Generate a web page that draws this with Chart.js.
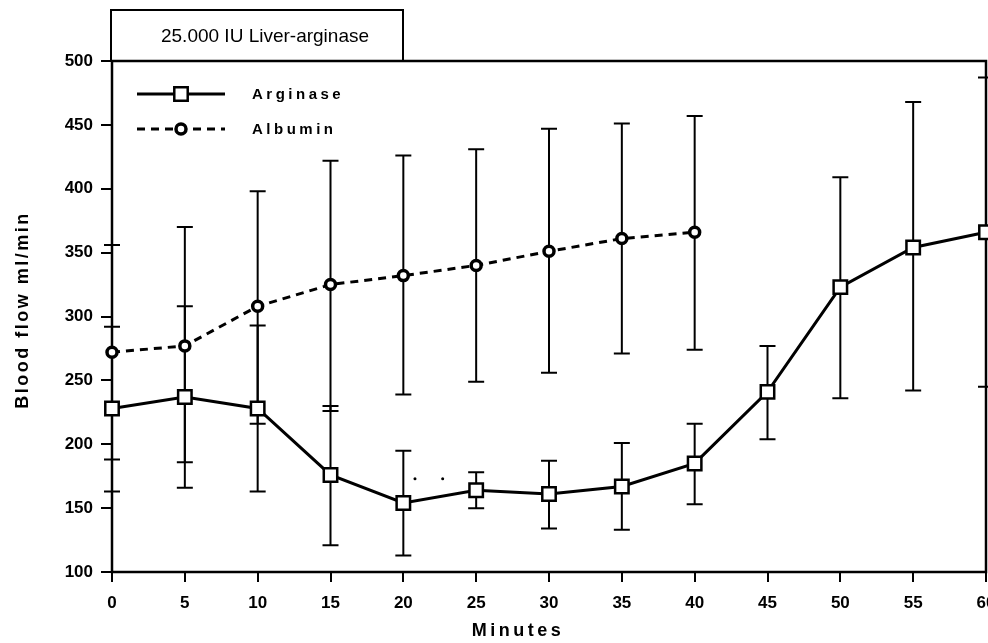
<!DOCTYPE html>
<html>
<head>
<meta charset="utf-8">
<script src="https://cdn.jsdelivr.net/npm/chart.js@4.4.0/dist/chart.umd.min.js"></script>
<style>
  html, body { margin: 0; padding: 0; background: #fff; }
  #wrap { width: 988px; height: 643px; }
</style>
</head>
<body>
<div id="wrap"><canvas id="flowChart" width="988" height="643"></canvas></div>
<script>
// values (blood flow, ml/min)
const minutes = [0, 5, 10, 15, 20, 25, 30, 35, 40, 45, 50, 55, 60];
const arginase = [228, 237, 228, 176, 154, 164, 161, 167, 185, 241, 323, 354, 366];
const arginaseLow = [163, 166, 163, 121, 113, 150, 134, 133, 153, 204, 236, 242, 245];
const arginaseHigh = [292, 308, 293, 230, 195, 178, 187, 201, 216, 277, 409, 468, 487];
const albuminMinutes = [0, 5, 10, 15, 20, 25, 30, 35, 40];
const albumin = [272, 277, 308, 325, 332, 340, 351, 361, 366];
const albuminLow = [188, 186, 216, 226, 239, 249, 256, 271, 274];
const albuminHigh = [356, 370, 398, 422, 426, 431, 447, 451, 457];
const dotMinutes = [20.8, 22.7];
const dotValues = [173, 173];

const FONT = "'Liberation Sans', Arial, sans-serif";

function toPoints(xs, ys) {
  return xs.map((x, i) => ({ x: x, y: ys[i] }));
}

// error bars, title box, frame, legend and axis titles
const decor = {
  id: "decor",
  beforeDatasetsDraw(chart) {
    const { ctx, chartArea, scales } = chart;
    const xs = scales.x, ys = scales.y;
    ctx.save();
    ctx.strokeStyle = "#000";
    ctx.lineWidth = 2;
    const bars = [
      [minutes, arginaseLow, arginaseHigh],
      [albuminMinutes, albuminLow, albuminHigh]
    ];
    bars.forEach(([mx, lo, hi]) => {
      mx.forEach((m, i) => {
        const px = xs.getPixelForValue(m);
        const y1 = ys.getPixelForValue(lo[i]);
        const y2 = ys.getPixelForValue(hi[i]);
        ctx.beginPath();
        ctx.moveTo(px, y1); ctx.lineTo(px, y2);
        ctx.moveTo(px - 8, y1); ctx.lineTo(px + 8, y1);
        ctx.moveTo(px - 8, y2); ctx.lineTo(px + 8, y2);
        ctx.stroke();
      });
    });
    // frame
    ctx.lineWidth = 2.5;
    ctx.strokeRect(chartArea.left, chartArea.top, chartArea.right - chartArea.left, chartArea.bottom - chartArea.top);
    ctx.restore();
  },
  afterDraw(chart) {
    const { ctx, chartArea } = chart;
    ctx.save();
    ctx.strokeStyle = "#000";
    ctx.fillStyle = "#000";

    // title box
    ctx.lineWidth = 2;
    ctx.strokeRect(chartArea.left - 1, 10, 292, chartArea.top - 10);
    ctx.font = "19px " + FONT;
    ctx.textAlign = "center";
    ctx.textBaseline = "middle";
    ctx.fillText("25.000 IU Liver-arginase", chartArea.left + 153, 37);

    // legend
    const lx = chartArea.left + 25, cx = chartArea.left + 69;
    const rows = [
      { y: chartArea.top + 33, ds: chart.data.datasets[0] },
      { y: chartArea.top + 68, ds: chart.data.datasets[1] }
    ];
    rows.forEach(r => {
      ctx.lineWidth = 3;
      ctx.setLineDash(r.ds.borderDash || []);
      ctx.beginPath();
      ctx.moveTo(lx, r.y); ctx.lineTo(lx + 88, r.y);
      ctx.stroke();
      ctx.setLineDash([]);
      ctx.fillStyle = "#fff";
      ctx.lineWidth = r.ds.pointBorderWidth;
      ctx.beginPath();
      if (r.ds.pointStyle === "rect") {
        const s = r.ds.pointRadius * Math.SQRT1_2;
        ctx.rect(cx - s, r.y - s, 2 * s, 2 * s);
      } else {
        ctx.arc(cx, r.y, r.ds.pointRadius, 0, Math.PI * 2);
      }
      ctx.fill(); ctx.stroke();
      ctx.fillStyle = "#000";
      ctx.font = "bold 15px " + FONT;
      ctx.letterSpacing = "3.5px";
      ctx.textAlign = "left";
      ctx.fillText(r.ds.label, chartArea.left + 140, r.y + 1);
    });

    // axis titles
    ctx.font = "bold 18px " + FONT;
    ctx.letterSpacing = "3.5px";
    ctx.textAlign = "center";
    ctx.fillText("Minutes", 518, 631);
    ctx.letterSpacing = "2.5px";
    ctx.translate(23, 310);
    ctx.rotate(-Math.PI / 2);
    ctx.fillText("Blood flow ml/min", 0, 0);
    ctx.restore();
  }
};

const ctxFlow = document.getElementById("flowChart");
const flowChart = new Chart(ctxFlow, {
  type: "line",
  data: {
    datasets: [
      {
        label: "Arginase",
        data: toPoints(minutes, arginase),
        borderColor: "#000",
        borderWidth: 3,
        tension: 0,
        pointStyle: "rect",
        pointRadius: 9.5,
        pointBorderWidth: 2.5,
        pointBackgroundColor: "#fff",
        pointBorderColor: "#000"
      },
      {
        label: "Albumin",
        data: toPoints(albuminMinutes, albumin),
        borderColor: "#000",
        borderWidth: 3,
        borderDash: [8, 6],
        tension: 0,
        pointStyle: "circle",
        pointRadius: 5,
        pointBorderWidth: 3.5,
        pointBackgroundColor: "#fff",
        pointBorderColor: "#000"
      },
      {
        label: "marks",
        data: toPoints(dotMinutes, dotValues),
        showLine: false,
        pointStyle: "circle",
        pointRadius: 1.5,
        pointBorderWidth: 0,
        pointBackgroundColor: "#000"
      }
    ]
  },
  options: {
    responsive: false,
    animation: false,
    clip: false,
    layout: { autoPadding: false, padding: { top: 61, right: 2, left: 0, bottom: 0 } },
    plugins: {
      legend: { display: false },
      tooltip: { enabled: false }
    },
    scales: {
      x: {
        type: "linear",
        min: 0,
        max: 60,
        grid: { drawOnChartArea: false, color: "#000", lineWidth: 2, tickLength: 10 },
        border: { display: false },
        ticks: {
          stepSize: 5,
          color: "#000",
          padding: 11,
          maxRotation: 0,
          font: { family: FONT, size: 17, weight: "bold" }
        },
        afterFit(scale) {
          scale.height = 71;
          scale.paddingLeft = 0;
          scale.paddingRight = 0;
        }
      },
      y: {
        min: 100,
        max: 500,
        grid: { drawOnChartArea: false, color: "#000", lineWidth: 2, tickLength: 11 },
        border: { display: false },
        ticks: {
          stepSize: 50,
          color: "#000",
          padding: 8,
          font: { family: FONT, size: 17, weight: "bold" }
        },
        afterFit(scale) {
          scale.width = 112;
          scale.paddingTop = 0;
          scale.paddingBottom = 0;
        }
      }
    }
  },
  plugins: [decor]
});
</script>
</body>
</html>
